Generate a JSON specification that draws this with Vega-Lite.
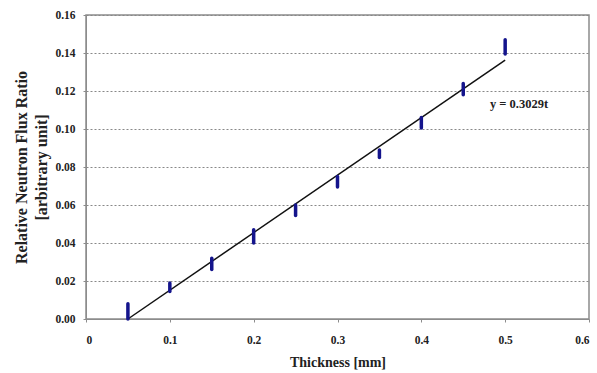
{
  "$schema": "https://vega.github.io/schema/vega-lite/v6.json",
  "width": 503,
  "height": 304,
  "autosize": {"type": "none"},
  "padding": {"left": 86, "top": 15, "right": 8, "bottom": 54},
  "background": "white",
  "config": {
    "view": {"stroke": "#8c8c8c", "strokeWidth": 1.5},
    "font": "Liberation Serif",
    "axis": {
      "labelFont": "Liberation Serif",
      "labelFontWeight": "bold",
      "labelFontSize": 11.5,
      "labelColor": "#222",
      "labelOverlap": false,
      "titleFont": "Liberation Serif",
      "titleFontWeight": "bold",
      "titleColor": "#222",
      "domainColor": "#8c8c8c",
      "tickColor": "#8c8c8c"
    }
  },
  "datasets": {
    "pts": [
      {"t": 0.05, "y": 0.0, "hi": 0.008},
      {"t": 0.10, "y": 0.0145, "hi": 0.019},
      {"t": 0.15, "y": 0.026, "hi": 0.032},
      {"t": 0.20, "y": 0.040, "hi": 0.047},
      {"t": 0.25, "y": 0.0545, "hi": 0.060},
      {"t": 0.30, "y": 0.0695, "hi": 0.075},
      {"t": 0.35, "y": 0.085, "hi": 0.089},
      {"t": 0.40, "y": 0.1005, "hi": 0.106},
      {"t": 0.45, "y": 0.118, "hi": 0.124},
      {"t": 0.50, "y": 0.1395, "hi": 0.147}
    ],
    "fit": [
      {"t": 0.05, "y": 0.0},
      {"t": 0.50, "y": 0.1363}
    ],
    "lbl": [
      {"t": 0.5165, "y": 0.113, "text": "y = 0.3029t"}
    ]
  },
  "encoding": {
    "x": {
      "field": "t", "type": "quantitative",
      "scale": {"domain": [0, 0.6], "nice": false},
      "axis": {
        "values": [0, 0.1, 0.2, 0.3, 0.4, 0.5, 0.6],
        "format": "~g",
        "title": "Thickness [mm]",
        "titleFontSize": 14,
        "grid": false,
        "tickSize": 3,
        "labelPadding": 12,
        "titlePadding": 10
      }
    },
    "y": {
      "field": "y", "type": "quantitative",
      "scale": {"domain": [0, 0.16], "nice": false},
      "axis": {
        "values": [0, 0.02, 0.04, 0.06, 0.08, 0.1, 0.12, 0.14, 0.16],
        "format": ".2f",
        "labelOverlap": false,
        "title": ["Relative Neutron Flux Ratio", "[arbitrary unit]"],
        "titleFontSize": 16,
        "titleLineHeight": 20,
        "grid": true,
        "gridDash": [2, 2],
        "gridColor": "#888",
        "gridWidth": 1,
        "tickSize": 3,
        "labelPadding": 8,
        "titlePadding": 5
      }
    }
  },
  "layer": [
    {
      "data": {"name": "fit"},
      "mark": {"type": "line", "color": "#111", "strokeWidth": 1.5},
      "encoding": {}
    },
    {
      "data": {"name": "pts"},
      "mark": {"type": "rule", "color": "#14148c", "strokeWidth": 3.5, "strokeCap": "round"},
      "encoding": {
        "y2": {"field": "hi"}
      }
    },
    {
      "data": {"name": "lbl"},
      "mark": {"type": "text", "font": "Liberation Serif", "fontWeight": "bold", "fontSize": 12.5, "color": "#222", "align": "center", "baseline": "middle"},
      "encoding": {
        "text": {"field": "text"}
      }
    }
  ]
}
